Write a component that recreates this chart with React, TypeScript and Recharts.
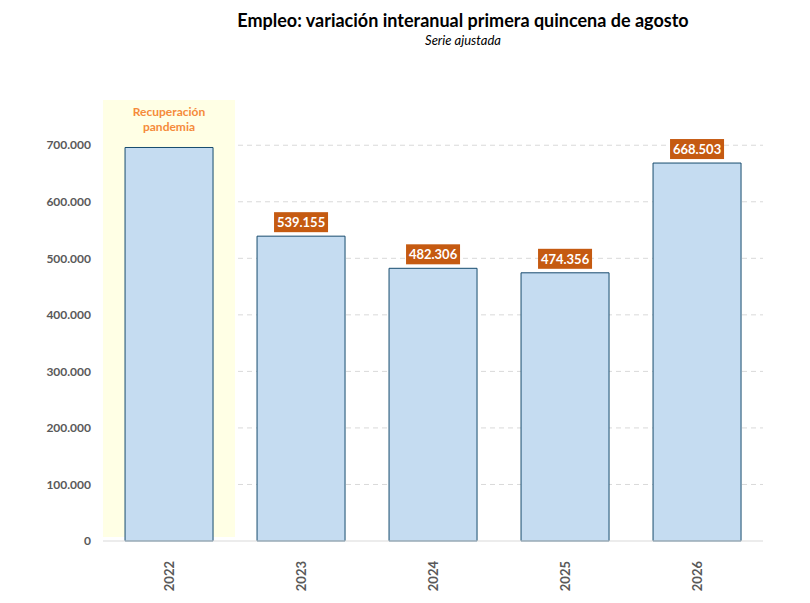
import React from 'react';
import {
  Bar,
  BarChart,
  CartesianGrid,
  LabelList,
  ReferenceArea,
  XAxis,
  YAxis,
} from 'recharts';

const years = ['2022', '2023', '2024', '2025', '2026'];
const empleo = [696000, 539155, 482306, 474356, 668503];
const showValue = [false, true, true, true, true];
const yTicks = [0, 100000, 200000, 300000, 400000, 500000, 600000, 700000];

const data = years.map((year, i) => ({
  year,
  empleo: empleo[i],
}));

const FONT = 'Lato, "Open Sans", sans-serif';
const GREY = '#595959';

const fmt = (v: number) => String(Math.round(v)).replace(/\B(?=(\d{3})+(?!\d))/g, '.');

const YearTick = (props: any) => {
  const { x, y, payload } = props;
  return (
    <text
      x={x}
      y={y + 12}
      transform={`rotate(-90 ${x} ${y + 12})`}
      textAnchor="end"
      dominantBaseline="central"
      fill={GREY}
      fontFamily={FONT}
      fontWeight="bold"
      fontSize={13}
    >
      {payload.value}
    </text>
  );
};

const ValueLabel = (props: any) => {
  const { x, y, width, value, index } = props;
  if (!showValue[index]) return null;
  const cx = x + width / 2;
  const w = 54;
  const h = 20;
  return (
    <g>
      <rect x={cx - w / 2} y={y - 4 - h} width={w} height={h} fill="#C55A11" />
      <text
        x={cx}
        y={y - 4 - h / 2}
        textAnchor="middle"
        dominantBaseline="central"
        fill="#fff"
        fontFamily={FONT}
        fontWeight="bold"
        fontSize={13}
      >
        {fmt(value)}
      </text>
    </g>
  );
};

const BandLabel = (props: any) => {
  const { viewBox } = props;
  const cx = viewBox.x + viewBox.width / 2;
  return (
    <text
      x={cx}
      y={viewBox.y + 16}
      textAnchor="middle"
      fill="#F58B3B"
      fontFamily={FONT}
      fontWeight="bold"
      fontSize={12}
    >
      <tspan x={cx} dy={0}>Recuperación</tspan>
      <tspan x={cx} dy={15}>pandemia</tspan>
    </text>
  );
};

export default function App() {
  return (
    <div style={{ position: 'absolute', left: 0, top: 0, background: '#fff' }}>
      <svg width={810} height={60} style={{ position: 'absolute', left: 0, top: 0 }}>
        <text
          x={463}
          y={27}
          textAnchor="middle"
          fontFamily={FONT}
          fontWeight="bold"
          fontSize={18}
          fill="#000"
        >
          Empleo: variación interanual primera quincena de agosto
        </text>
        <text
          x={463}
          y={45}
          textAnchor="middle"
          fontFamily={FONT}
          fontStyle="italic"
          fontSize={13}
          fill="#000"
        >
          Serie ajustada
        </text>
      </svg>
      <BarChart
        width={810}
        height={603}
        data={data}
        margin={{ top: 100, right: 47, bottom: 22, left: 0 }}
        barCategoryGap="16.7%"
      >
        <ReferenceArea
          x1="2022"
          x2="2022"
          y1={7000}
          y2={780000}
          fill="#FFFFE5"
          fillOpacity={1}
          stroke="none"
          ifOverflow="visible"
          label={<BandLabel />}
        />
        <CartesianGrid
          vertical={false}
          horizontalValues={yTicks.slice(1)}
          stroke="#D9D9D9"
          strokeDasharray="5 4"
        />
        <XAxis
          dataKey="year"
          axisLine={{ stroke: '#D9D9D9' }}
          tickLine={false}
          tick={<YearTick />}
          height={40}
          interval={0}
        />
        <YAxis
          domain={[0, 780000]}
          ticks={yTicks}
          width={103}
          axisLine={false}
          tickLine={false}
          tickSize={0}
          tickMargin={12}
          tickFormatter={fmt}
          tick={{ fill: GREY, fontFamily: FONT, fontWeight: 'bold', fontSize: 12 }}
        />
        <Bar
          dataKey="empleo"
          fill="#C5DCF1"
          stroke="#174B6E"
          strokeWidth={1}
          isAnimationActive={false}
        >
          <LabelList dataKey="empleo" content={<ValueLabel />} />
        </Bar>
      </BarChart>
    </div>
  );
}
